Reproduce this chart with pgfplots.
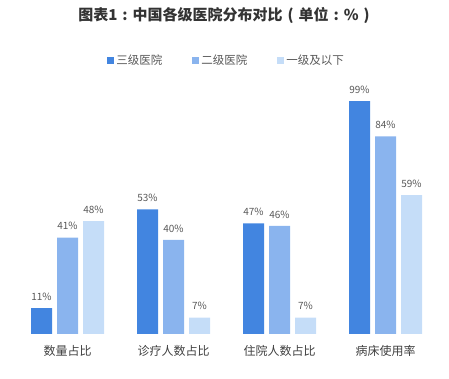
\documentclass[border=0pt]{standalone}
\usepackage{pgfplots}
\pgfplotsset{compat=1.18}
\usepackage{fontspec}
\setmainfont{Noto Sans CJK SC}
\definecolor{c1}{HTML}{4285E0}
\definecolor{c2}{HTML}{8AB4EE}
\definecolor{c3}{HTML}{C5DDF8}
\definecolor{txt}{HTML}{595959}
\newcommand{\tsp}{\hspace{5pt}}
\begin{document}
\begin{tikzpicture}[x=1pt,y=1pt]
\path[use as bounding box] (0,0) rectangle (449,379);
\node[font=\fontsize{15}{17}\selectfont\bfseries, text=black!80, anchor=center] at (224,364) {图表1\tsp{}:\tsp{}中国各级医院分布对比\tsp{}(\tsp{}单位\tsp{}:\tsp{}\%\tsp{})};
\begin{axis}[
  at={(14.5pt,45pt)}, anchor=south west,
  scale only axis, width=424pt, height=247pt,
  ybar=5pt, bar width=21pt,
  xmin=-0.5, xmax=3.5, ymin=0, ymax=105,
  axis line style={draw=none},
  xtick=data, xticklabels={数量占比,诊疗人数占比,住院人数占比,病床使用率},
  ytick=\empty, major tick length=0pt,
  xticklabel style={font=\fontsize{12}{14}\selectfont, text=black!75, yshift=-8pt},
  nodes near coords={\pgfmathprintnumber[assume math mode=true]{\pgfplotspointmeta}\%},
  every node near coord/.append style={font=\fontsize{10}{12}\selectfont, text=txt, yshift=4pt},
  legend style={at={(0.5,1.109)}, anchor=center, draw=none, legend columns=3,
    font=\fontsize{11.5}{13}\selectfont, text=txt,
    /tikz/every even column/.append style={column sep=28pt}},
  legend image code/.code={\fill[#1, draw=none] (0pt,-3.5pt) rectangle (7pt,3.5pt);},
]
\addplot[fill=c1, draw=none] coordinates {(0,11) (1,53) (2,47) (3,99)};
\addplot[fill=c2, draw=none] coordinates {(0,41) (1,40) (2,46) (3,84)};
\addplot[fill=c3, draw=none] coordinates {(0,48) (1,7) (2,7) (3,59)};
\legend{三级医院,二级医院,一级及以下}
\end{axis}
\end{tikzpicture}
\end{document}
